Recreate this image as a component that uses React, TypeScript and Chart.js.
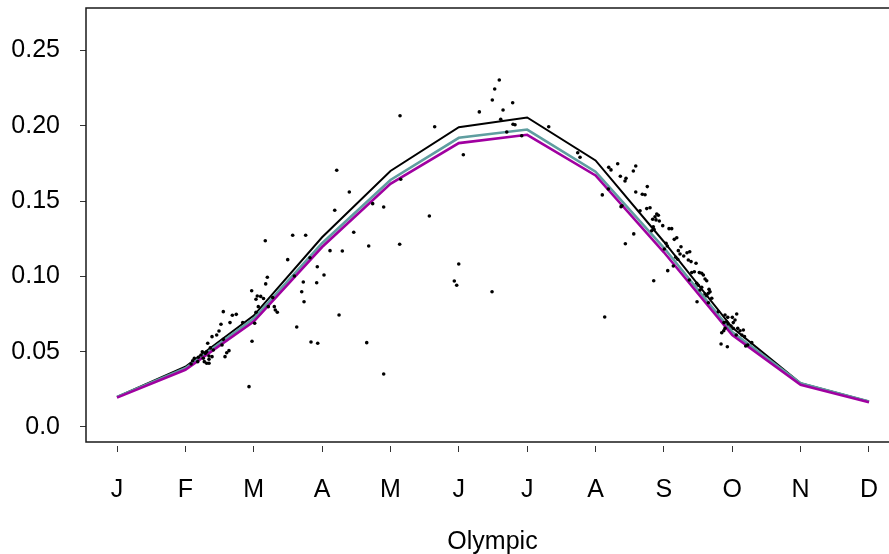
import React, { useEffect, useRef } from "react";
import { Chart, registerables } from "chart.js";

Chart.register(...registerables);

// ---- data ----
const MONTH_LABELS = ["J", "F", "M", "A", "M", "J", "J", "A", "S", "O", "N", "D"];
const MONTH_POS = [1, 2, 3, 4, 5, 6, 7, 8, 9, 10, 11, 12];
const Y_TICKS = [0, 0.05, 0.1, 0.15, 0.2, 0.25];
const Y_TICK_LABELS = ["0.0", "0.05", "0.10", "0.15", "0.20", "0.25"];
const X_TITLE = "Olympic";

const BLACK_LINE = [0.02, 0.04, 0.074, 0.126, 0.17, 0.199, 0.2055, 0.177, 0.123, 0.066, 0.029, 0.017];
const TEAL_LINE = [0.02, 0.039, 0.072, 0.122, 0.164, 0.192, 0.1975, 0.1695, 0.119, 0.063, 0.029, 0.017];
const MAGENTA_LINE = [0.0195, 0.038, 0.07, 0.1195, 0.1615, 0.1885, 0.194, 0.167, 0.116, 0.061, 0.028, 0.0165];

const OBS_MONTH = [
  3.199, 3.175, 2.97, 3.052, 3.102, 3.143, 3.033, 3.213, 3.067, 2.555, 2.687, 2.745, 2.653, 2.521, 2.839, 3.014,
  2.492, 2.458, 2.39, 2.555, 2.975, 2.327, 2.536, 2.365, 2.409, 2.248, 2.292, 2.312, 2.638, 2.605, 2.189, 2.229,
  2.346, 2.39, 2.58, 2.131, 2.107, 2.262, 2.346, 2.181, 2.277, 2.312, 2.346, 2.083, 2.931,
  3.57, 3.76, 3.169, 4.116, 3.497, 3.823, 3.93, 4.028, 3.594, 3.725, 3.921, 3.702, 3.278, 3.736, 3.301, 3.316,
  3.345, 3.033, 4.248, 3.629, 3.838, 3.936,
  5.14, 5.647, 4.214, 4.398, 4.185, 4.74, 4.901, 5.15, 5.569, 4.463, 4.296, 4.682, 5.135, 4.653, 4.901,
  6.592, 6.525, 6.49, 6.788, 6.3, 6.647, 6.613, 6.793, 6.822, 6.701, 6.92, 7.315, 6.066, 5.999, 5.934, 5.969, 6.486,
  7.739, 7.773, 8.193, 8.226, 8.324, 8.588, 8.553, 8.363, 8.446, 8.431, 8.187, 8.099, 8.757, 8.588, 8.684, 8.724,
  8.373, 8.387, 8.797, 8.749, 8.651, 8.895, 8.919, 8.87, 8.836, 8.885, 8.933, 8.983, 8.845, 8.822, 8.855, 9.075,
  8.559, 8.436, 9.031, 9.05, 9.006, 9.056, 8.851, 8.134,
  9.114, 9.188, 9.152, 9.25, 9.211, 9.236, 9.338, 9.378, 9.29, 9.173, 9.202, 9.357, 9.397, 9.47, 9.138, 9.407,
  9.445, 9.518, 9.553, 9.577, 9.372, 9.602, 9.626, 9.48, 9.504, 9.66, 9.675, 9.65, 9.553, 9.529, 9.602, 9.626,
  9.7, 9.485, 9.65, 9.796, 9.894, 9.934, 10.001, 10.065, 9.879, 9.918, 9.942, 10.04, 10.015, 9.982, 10.015, 9.894,
  9.875, 10.08, 10.114, 10.162, 9.846, 10.058, 10.141, 10.179, 9.836, 9.928, 10.197, 10.226, 10.285,
];
const OBS_VALUE = [
  0.0994, 0.095, 0.0905, 0.087, 0.0867, 0.0853, 0.0848, 0.0799, 0.0799, 0.0766, 0.0742, 0.0748, 0.0693, 0.0682, 0.0693, 0.0689,
  0.0637, 0.0611, 0.06, 0.0582, 0.0569, 0.0556, 0.0544, 0.0525, 0.0511, 0.05, 0.0489, 0.05, 0.0507, 0.0493, 0.0463, 0.0478,
  0.0471, 0.0467, 0.0467, 0.0456, 0.044, 0.0456, 0.045, 0.0434, 0.0434, 0.0423, 0.0423, 0.0418, 0.0268,
  0.1273, 0.1273, 0.1237, 0.1171, 0.1111, 0.1124, 0.1064, 0.1009, 0.1003, 0.0963, 0.0958, 0.0898, 0.0859, 0.0832, 0.0799, 0.0777,
  0.0762, 0.0762, 0.0744, 0.0664, 0.0564, 0.0556,
  0.2067, 0.1994, 0.1705, 0.156, 0.1439, 0.1483, 0.1461, 0.1645, 0.1401, 0.1293, 0.1169, 0.1202, 0.1213, 0.056, 0.0352,
  0.2304, 0.2244, 0.2171, 0.2153, 0.2092, 0.2105, 0.2043, 0.201, 0.2007, 0.1959, 0.1934, 0.1994, 0.1808, 0.1082, 0.0969, 0.0941, 0.0898,
  0.1821, 0.1791, 0.1724, 0.1707, 0.1748, 0.1733, 0.17, 0.1665, 0.1651, 0.1633, 0.158, 0.1541, 0.1596, 0.156, 0.1545, 0.1542,
  0.1463, 0.1469, 0.1456, 0.145, 0.1436, 0.1414, 0.1406, 0.1396, 0.1379, 0.1375, 0.1368, 0.1337, 0.133, 0.1303, 0.1313, 0.1317,
  0.1282, 0.1217, 0.122, 0.1202, 0.1182, 0.1038, 0.0971, 0.073,
  0.1317, 0.1257, 0.1246, 0.1197, 0.1171, 0.1149, 0.1157, 0.1164, 0.1135, 0.1127, 0.1114, 0.1109, 0.1098, 0.1087, 0.1069, 0.1025,
  0.1031, 0.1025, 0.1021, 0.1009, 0.0976, 0.0983, 0.0971, 0.0954, 0.0941, 0.0914, 0.0898, 0.0888, 0.0928, 0.091, 0.0883, 0.0872,
  0.0855, 0.0832, 0.0825, 0.0766, 0.0744, 0.0728, 0.0728, 0.075, 0.0693, 0.0699, 0.0684, 0.071, 0.0693, 0.0671, 0.0655, 0.0655,
  0.0639, 0.0655, 0.0639, 0.0644, 0.0626, 0.0611, 0.0611, 0.06, 0.0551, 0.0533, 0.0538, 0.0544, 0.056,
];

const X_MIN = 0.5465;
const X_MAX = 12.439;
const Y_MIN = -0.01262;
const Y_MAX = 0.2782;

const FONT = "'Liberation Sans', Arial, sans-serif";
const FONT_SIZE = 25;

const boxPlugin = {
  id: "box",
  afterDraw(chart: any) {
    const { ctx, chartArea } = chart;
    const bottom = chartArea.bottom - 4;
    ctx.save();
    ctx.strokeStyle = "#1a1a1a";
    ctx.lineWidth = 1.5;
    ctx.beginPath();
    ctx.moveTo(chartArea.right, chartArea.top);
    ctx.lineTo(chartArea.left, chartArea.top);
    ctx.lineTo(chartArea.left, bottom);
    ctx.lineTo(chartArea.right, bottom);
    ctx.stroke();
    ctx.restore();
  },
};

const toXY = (vals: number[]) => vals.map((v, i) => ({ x: MONTH_POS[i], y: v }));

export default function App() {
  const ref = useRef<HTMLCanvasElement | null>(null);
  useEffect(() => {
    if (!ref.current) return;
    const chart = new Chart(ref.current, {
      type: "line",
      data: {
        datasets: [
          {
            type: "scatter",
            label: "obs",
            data: OBS_MONTH.map((m, i) => ({ x: m, y: OBS_VALUE[i] })),
            pointRadius: 1.8,
            pointBackgroundColor: "#000",
            pointBorderWidth: 0,
            showLine: false,
            order: 0,
          } as any,
          {
            label: "magenta",
            data: toXY(MAGENTA_LINE),
            borderColor: "#a000a0",
            borderWidth: 2.6,
            pointRadius: 0,
            tension: 0,
            order: 1,
          },
          {
            label: "teal",
            data: toXY(TEAL_LINE),
            borderColor: "#5f9ea0",
            borderWidth: 2.6,
            pointRadius: 0,
            tension: 0,
            order: 2,
          },
          {
            label: "black",
            data: toXY(BLACK_LINE),
            borderColor: "#000",
            borderWidth: 2,
            pointRadius: 0,
            tension: 0,
            order: 3,
          },
        ],
      },
      options: {
        animation: false,
        responsive: false,
        devicePixelRatio: 1,
        layout: { padding: { top: 8, right: 6, left: 0, bottom: 0 } },
        plugins: { legend: { display: false }, tooltip: { enabled: false } },
        scales: {
          x: {
            type: "linear",
            min: X_MIN,
            max: X_MAX,
            afterFit: (s: any) => {
              s.height = 108;
              s.paddingLeft = 0;
              s.paddingRight = 0;
            },
            afterBuildTicks: (s: any) => {
              s.ticks = MONTH_POS.map((v) => ({ value: v }));
            },
            grid: { drawOnChartArea: false, drawTicks: true, tickLength: 6, color: "#333", lineWidth: 1 },
            border: { display: false },
            ticks: {
              autoSkip: false,
              maxRotation: 0,
              padding: 23,
              color: "#000",
              font: { family: FONT, size: FONT_SIZE },
              callback: (v: any) => MONTH_LABELS[MONTH_POS.indexOf(Number(v))] ?? "",
            },
            title: {
              display: true,
              text: X_TITLE,
              color: "#000",
              font: { family: FONT, size: FONT_SIZE },
              padding: { top: 0, bottom: -3 },
            },
          },
          y: {
            type: "linear",
            min: Y_MIN,
            max: Y_MAX,
            afterFit: (s: any) => {
              s.width = 86;
              s.paddingTop = 0;
              s.paddingBottom = 0;
            },
            afterBuildTicks: (s: any) => {
              s.ticks = Y_TICKS.map((v) => ({ value: v }));
            },
            grid: { drawOnChartArea: false, drawTicks: true, tickLength: 6, color: "#333", lineWidth: 1 },
            border: { display: false },
            ticks: {
              padding: 20,
              color: "#000",
              font: { family: FONT, size: FONT_SIZE },
              callback: (v: any) => {
                const i = Y_TICKS.findIndex((t) => Math.abs(t - Number(v)) < 1e-9);
                return i >= 0 ? Y_TICK_LABELS[i] : "";
              },
            },
          },
        },
      },
      plugins: [boxPlugin],
    });
    return () => chart.destroy();
  }, []);

  return (
    <div
      style={{
        position: "absolute",
        left: 0,
        top: 0,
        width: 889,
        height: 554,
        overflow: "hidden",
        background: "#fff",
      }}
    >
      <canvas ref={ref} width={905} height={554} style={{ width: 905, height: 554, display: "block" }} />
    </div>
  );
}
